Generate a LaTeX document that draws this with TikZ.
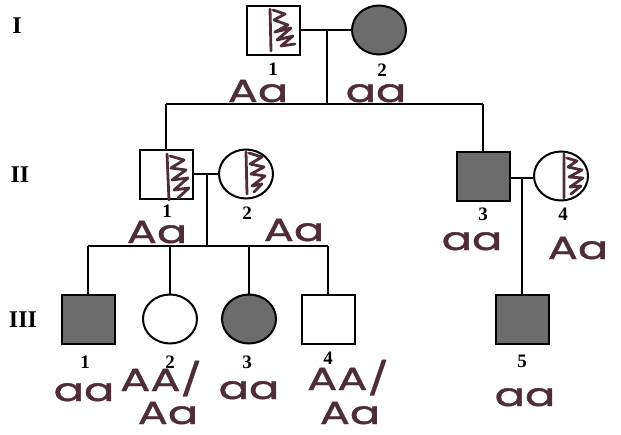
\documentclass[tikz,border=0pt]{standalone}
\usepackage{fontspec}
\usetikzlibrary{shapes.geometric}
\setmainfont{Liberation Serif}
\newfontfamily\handfont{Poppins}[FakeStretch=1.4,FakeBold=1.2]
\definecolor{ink}{RGB}{78,44,58}
\definecolor{shade}{RGB}{108,108,108}
\begin{document}
\begin{tikzpicture}[x=1pt,y=-1pt,
  male/.style={draw=black,line width=2pt,rectangle,minimum width=53pt,minimum height=49pt,inner sep=0pt},
  female/.style={draw=black,line width=2pt,ellipse,minimum width=54pt,minimum height=49pt,inner sep=0pt},
  aff/.style={fill=shade},
  link/.style={line width=2pt},
  gen/.style={font=\bfseries\fontsize{24}{24}\selectfont,inner sep=0pt},
  num/.style={font=\bfseries\fontsize{19}{19}\selectfont,inner sep=0pt,anchor=base,text height=13pt,text depth=0pt},
  geno/.style={font=\handfont\fontsize{32}{30}\selectfont,text=ink,inner sep=0pt,anchor=base,text height=21pt,text depth=0pt},
  hatch/.style={draw=ink,line width=2.8pt,line join=round,line cap=round}]
\useasboundingbox (0,0) rectangle (621,434);
% generation labels
\node[gen] (gI) at (17,26) {I};
\node[gen] (gII) at (20,175) {II};
\node[gen] (gIII) at (23,320) {III};
% generation I
\node[male] (i1) at (273,30) {};
\node[female,aff] (i2) at (379,30) {};
\coordinate (m1) at (327,30);
\coordinate (s1) at (327,104);
% generation II
\node[male] (ii1) at (166,174) {};
\node[female] (ii2) at (246,174) {};
\node[male,aff] (ii3) at (483,176) {};
\node[female] (ii4) at (561,176) {};
\coordinate (sl1) at (ii1.north|-s1);
\coordinate (sr1) at (ii3.north|-s1);
\coordinate (m2) at (207,174);
\coordinate (s2) at (207,246);
\coordinate (m3) at (522,178);
% generation III
\node[male,aff] (iii1) at (88,319) {};
\node[female] (iii2) at (170,319) {};
\node[female,aff] (iii3) at (249,319) {};
\node[male] (iii4) at (328,319) {};
\node[male,aff] (iii5) at (522,319) {};
\coordinate (sl2) at (iii1.north|-s2);
\coordinate (sr2) at (iii4.north|-s2);
% connectors
\draw[link] (i1.east) -- (i2.west);
\draw[link] (m1) -- (s1);
\draw[link] (sl1) -- (sr1);
\draw[link] (sl1) -- (ii1.north);
\draw[link] (sr1) -- (ii3.north);
\draw[link] (ii1.east) -- (ii2.west);
\draw[link] (m2) -- (s2);
\draw[link] (sl2) -- (sr2);
\draw[link] (sl2) -- (iii1.north);
\draw[link] (iii2.north|-sl2) -- (iii2.north);
\draw[link] (iii3.north|-sl2) -- (iii3.north);
\draw[link] (sr2) -- (iii4.north);
\draw[link] (ii3.east|-m3) -- (ii4.west|-m3);
\draw[link] (m3) -- (iii5.north);
% hatching (carriers)
\draw[hatch,shift={(i1.center)}] (-3,-21) -- (-2,21)
  (0,-20) -- (12,-16) -- (1,-10) -- (15,-5) -- (2,2) -- (18,-2) -- (4,10) -- (20,6) -- (8,16) -- (22,14);
\draw[hatch,shift={(ii1.center)}] (1,-20) -- (3,26)
  (4,-18) -- (18,-14) -- (5,-6) -- (20,-4) -- (6,6) -- (22,4) -- (8,16) -- (23,14) -- (12,24);
\draw[hatch,shift={(ii2.center)}] (0,-22) -- (1,20)
  (3,-21) -- (16,-17) -- (4,-10) -- (18,-7) -- (5,0) -- (19,2) -- (6,12) -- (16,10) -- (8,18);
\draw[hatch,shift={(ii4.center)}] (3,-22) -- (3,22)
  (6,-18) -- (16,-15) -- (7,-9) -- (21,-6) -- (8,1) -- (22,2) -- (9,11) -- (20,10) -- (10,18);
% individual numbers
\node[num] (n11) at (273,75) {1};
\node[num] (n12) at (382,76) {2};
\node[num] (n21) at (167,217) {1};
\node[num] (n22) at (247,219) {2};
\node[num] (n23) at (483,220) {3};
\node[num] (n24) at (563,220) {4};
\node[num] (n31) at (85,368) {1};
\node[num] (n32) at (170,368) {2};
\node[num] (n33) at (247,368) {3};
\node[num] (n34) at (328,364) {4};
\node[num] (n35) at (522,367) {5};
% genotypes
\node[geno] (g11) at (258,102) {Aa};
\node[geno] (g12) at (376,102) {aa};
\node[geno] (g21) at (157,243) {Aa};
\node[geno] (g22) at (294,241) {Aa};
\node[geno] (g23) at (472,250) {aa};
\node[geno] (g24) at (578,259) {Aa};
\node[geno] (g31) at (84,401) {aa};
\node[geno] (g32) at (161,391) {AA/};
\node[geno] (g32b) at (168,424) {Aa};
\node[geno] (g33) at (249,399) {aa};
\node[geno] (g34) at (348,390) {AA/};
\node[geno] (g34b) at (350,424) {Aa};
\node[geno] (g35) at (525,406) {aa};
\end{tikzpicture}
\end{document}
